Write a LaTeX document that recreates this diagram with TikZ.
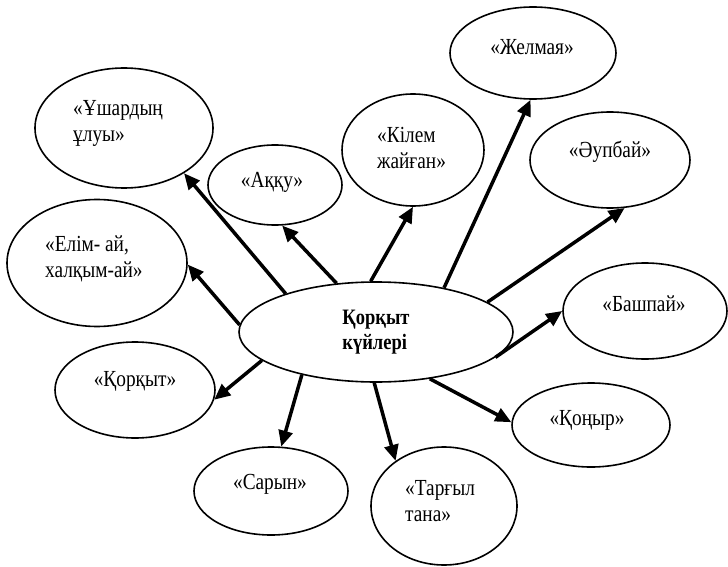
\documentclass[tikz,border=0pt]{standalone}
\usepackage{fontspec}
\setmainfont{Liberation Serif}[FakeStretch=0.84]
\usetikzlibrary{shapes.geometric,arrows.meta}
\begin{document}
\begin{tikzpicture}[x=1pt,y=-1pt,
  oval/.style={draw, ellipse, line width=1.6pt, inner sep=0pt},
  lbl/.style={inner sep=0pt, font=\fontsize{23}{26}\selectfont, align=left},
  arr/.style={line width=3.5pt, -{Triangle[length=16pt,width=14pt]}}]
\useasboundingbox (0,0) rectangle (728,567);
% centre
\node[oval, minimum width=274pt, minimum height=100pt, font=\fontsize{22}{25}\selectfont\bfseries, align=left] (c) at (376,332) {Қорқыт\\күйлері};
% outer ellipses
\node[oval, minimum width=178pt, minimum height=120pt] (u)  at (124,128) {};
\node[oval, minimum width=134pt, minimum height=80pt]  (a)  at (275,185) {};
\node[oval, minimum width=180pt, minimum height=127pt] (e)  at (97,263)  {};
\node[oval, minimum width=142pt, minimum height=112pt] (k)  at (413,150) {};
\node[oval, minimum width=166pt, minimum height=92pt]  (zh) at (533,53)  {};
\node[oval, minimum width=160pt, minimum height=96pt]  (au) at (610,160) {};
\node[oval, minimum width=164pt, minimum height=96pt]  (b)  at (645,311) {};
\node[oval, minimum width=158pt, minimum height=84pt]  (q)  at (591,425) {};
\node[oval, minimum width=146pt, minimum height=118pt] (t)  at (444,506) {};
\node[oval, minimum width=154pt, minimum height=88pt]  (s)  at (271,491) {};
\node[oval, minimum width=160pt, minimum height=96pt]  (kk) at (135,390) {};
% texts
\node[lbl, anchor=west] (ut) at (73,123.5) {«Ұшардың\\ұлуы»};
\node[lbl] (at) at (272,182) {«Аққу»};
\node[lbl, anchor=west] (et) at (45,258.5) {«Елім- ай,\\халқым-ай»};
\node[lbl, anchor=west] (kt) at (377,148) {«Кілем\\жайған»};
\node[lbl] (zht) at (532,47) {«Желмая»};
\node[lbl] (aut) at (610,152) {«Әупбай»};
\node[lbl] (bt) at (644,304) {«Башпай»};
\node[lbl] (qt) at (587,420) {«Қоңыр»};
\node[lbl, anchor=west] (tt) at (405,501.5) {«Тарғыл\\тана»};
\node[lbl] (st) at (270,484) {«Сарын»};
\node[lbl] (kkt) at (135,381) {«Қорқыт»};
% arrows
\draw[arr] (c.157.8) -- (u.-37.3);
\draw[arr] (c.129.4) -- (a.-80);
\draw[arr] (c.177.9) -- (e.-1.3);
\draw[arr] (c.96.8) -- (k.-90);
\draw[arr] (c.33.9) -- (zh.-93.8);
\draw[arr] (c.15.1) -- (au.-73.9);
\draw[arr] (c.-12.1) -- (b.180);
\draw[arr] (c.-41.3) -- (q.178.5);
\draw[arr] (c.-92.3) -- (t.137.7);
\draw[arr] (c.-150.5) -- (s.77.2);
\draw[arr] (c.-166.6) -- (kk.-7.1);
\end{tikzpicture}
\end{document}
